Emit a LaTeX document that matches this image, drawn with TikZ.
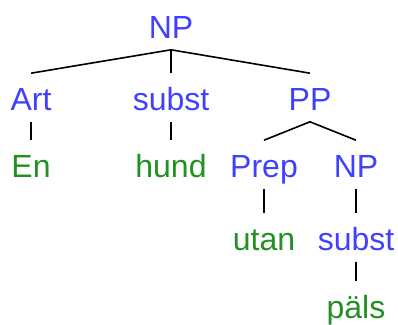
\documentclass[tikz,border=0pt]{standalone}
\usepackage{fontspec}
\setmainfont{Liberation Sans}
\definecolor{katblau}{RGB}{64,64,255}
\definecolor{wortgruen}{RGB}{34,145,34}
\begin{document}
\begin{tikzpicture}[x=1pt,y=-1pt,line width=1.6pt,
	knoten/.style={anchor=base,inner sep=0pt,text height=36pt,text depth=11pt,
		font=\fontsize{32}{32}\selectfont},
	kat/.style={knoten,text=katblau},
	wort/.style={knoten,text=wortgruen}]

\useasboundingbox (0,0) rectangle (398,324);

% Kategorien
\node[kat] (np) at (171,38) {NP};
\node[kat] (art) at (31,110) {Art};
\node[kat] (subst) at (171,110) {subst};
\node[kat] (pp) at (310,110) {PP};
\node[kat] (prep) at (264,177) {Prep};
\node[kat] (np2) at (356,177) {NP};
\node[kat] (subst2) at (356,250) {subst};

% Woerter
\node[wort] (en) at (31,177) {En};
\node[wort] (hund) at (171,177) {hund};
\node[wort] (utan) at (264,250) {utan};
\node[wort] (pals) at (356,318) {päls};

% Kanten
\draw (np.south) -- (art.north);
\draw (np.south) -- (subst.north);
\draw (np.south) -- (pp.north);
\draw (art.south) -- (en.north);
\draw (subst.south) -- (hund.north);
\draw (pp.south) -- (prep.north);
\draw (pp.south) -- (np2.north);
\draw (prep.south) -- (utan.north);
\draw (np2.south) -- (subst2.north);
\draw (subst2.south) -- (pals.north);

\end{tikzpicture}
\end{document}
